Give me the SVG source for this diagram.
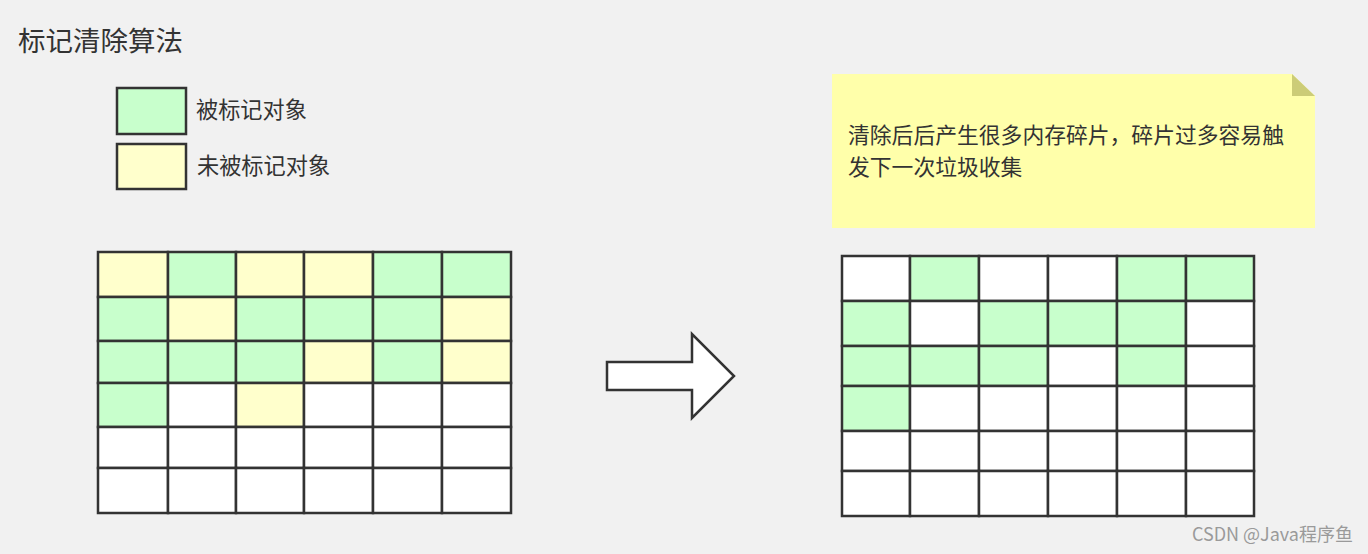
<svg xmlns="http://www.w3.org/2000/svg" width="1368" height="554" viewBox="0 0 1368 554">
<style>
text{font-family:"Noto Sans CJK SC","Noto Sans",sans-serif;fill:#333}
.c{stroke:#333;stroke-width:2.5}
.g{fill:#C8FFCC}
.y{fill:#FFFFCC}
.w{fill:#FFFFFF}
</style>
<rect width="1368" height="554" fill="#F1F1F1"/>
<text id="title" x="18" y="51" font-size="27.5">标记清除算法</text>
<g id="legend-marked">
<rect class="c g" x="117" y="88" width="69" height="46"/>
<text x="196" y="118" font-size="22.2">被标记对象</text>
</g>
<g id="legend-unmarked">
<rect class="c y" x="117" y="144" width="69" height="45"/>
<text x="197" y="174" font-size="22.2">未被标记对象</text>
</g>
<g id="grid-before">
<rect class="c y" x="98" y="252" width="70" height="45"/><rect class="c g" x="168" y="252" width="68" height="45"/><rect class="c y" x="236" y="252" width="68" height="45"/><rect class="c y" x="304" y="252" width="69" height="45"/><rect class="c g" x="373" y="252" width="69" height="45"/><rect class="c g" x="442" y="252" width="69" height="45"/>
<rect class="c g" x="98" y="297" width="70" height="44"/><rect class="c y" x="168" y="297" width="68" height="44"/><rect class="c g" x="236" y="297" width="68" height="44"/><rect class="c g" x="304" y="297" width="69" height="44"/><rect class="c g" x="373" y="297" width="69" height="44"/><rect class="c y" x="442" y="297" width="69" height="44"/>
<rect class="c g" x="98" y="341" width="70" height="42"/><rect class="c g" x="168" y="341" width="68" height="42"/><rect class="c g" x="236" y="341" width="68" height="42"/><rect class="c y" x="304" y="341" width="69" height="42"/><rect class="c g" x="373" y="341" width="69" height="42"/><rect class="c y" x="442" y="341" width="69" height="42"/>
<rect class="c g" x="98" y="383" width="70" height="44"/><rect class="c w" x="168" y="383" width="68" height="44"/><rect class="c y" x="236" y="383" width="68" height="44"/><rect class="c w" x="304" y="383" width="69" height="44"/><rect class="c w" x="373" y="383" width="69" height="44"/><rect class="c w" x="442" y="383" width="69" height="44"/>
<rect class="c w" x="98" y="427" width="70" height="41"/><rect class="c w" x="168" y="427" width="68" height="41"/><rect class="c w" x="236" y="427" width="68" height="41"/><rect class="c w" x="304" y="427" width="69" height="41"/><rect class="c w" x="373" y="427" width="69" height="41"/><rect class="c w" x="442" y="427" width="69" height="41"/>
<rect class="c w" x="98" y="468" width="70" height="45"/><rect class="c w" x="168" y="468" width="68" height="45"/><rect class="c w" x="236" y="468" width="68" height="45"/><rect class="c w" x="304" y="468" width="69" height="45"/><rect class="c w" x="373" y="468" width="69" height="45"/><rect class="c w" x="442" y="468" width="69" height="45"/>
</g>
<g id="connectors">
<path id="arrow" class="c" fill="#FFFFFF" d="M607 362 H692 V334 L734 376 L692 418 V390 H607 Z"/>
</g>
<g id="grid-after">
<rect class="c w" x="842" y="256" width="68" height="45"/><rect class="c g" x="910" y="256" width="69" height="45"/><rect class="c w" x="979" y="256" width="69" height="45"/><rect class="c w" x="1048" y="256" width="69" height="45"/><rect class="c g" x="1117" y="256" width="69" height="45"/><rect class="c g" x="1186" y="256" width="68" height="45"/>
<rect class="c g" x="842" y="301" width="68" height="45"/><rect class="c w" x="910" y="301" width="69" height="45"/><rect class="c g" x="979" y="301" width="69" height="45"/><rect class="c g" x="1048" y="301" width="69" height="45"/><rect class="c g" x="1117" y="301" width="69" height="45"/><rect class="c w" x="1186" y="301" width="68" height="45"/>
<rect class="c g" x="842" y="346" width="68" height="40"/><rect class="c g" x="910" y="346" width="69" height="40"/><rect class="c g" x="979" y="346" width="69" height="40"/><rect class="c w" x="1048" y="346" width="69" height="40"/><rect class="c g" x="1117" y="346" width="69" height="40"/><rect class="c w" x="1186" y="346" width="68" height="40"/>
<rect class="c g" x="842" y="386" width="68" height="45"/><rect class="c w" x="910" y="386" width="69" height="45"/><rect class="c w" x="979" y="386" width="69" height="45"/><rect class="c w" x="1048" y="386" width="69" height="45"/><rect class="c w" x="1117" y="386" width="69" height="45"/><rect class="c w" x="1186" y="386" width="68" height="45"/>
<rect class="c w" x="842" y="431" width="68" height="40"/><rect class="c w" x="910" y="431" width="69" height="40"/><rect class="c w" x="979" y="431" width="69" height="40"/><rect class="c w" x="1048" y="431" width="69" height="40"/><rect class="c w" x="1117" y="431" width="69" height="40"/><rect class="c w" x="1186" y="431" width="68" height="40"/>
<rect class="c w" x="842" y="471" width="68" height="45"/><rect class="c w" x="910" y="471" width="69" height="45"/><rect class="c w" x="979" y="471" width="69" height="45"/><rect class="c w" x="1048" y="471" width="69" height="45"/><rect class="c w" x="1117" y="471" width="69" height="45"/><rect class="c w" x="1186" y="471" width="68" height="45"/>
</g>
<g id="note">
<path d="M832 74 H1292 L1315 96 V228 H832 Z" fill="#FFFFAA"/>
<path d="M1292 74 L1315 96 H1292 Z" fill="#CCCC77"/>
<text x="848" y="143" font-size="21.8">清除后后产生很多内存碎片，碎片过多容易触</text>
<text x="848" y="175" font-size="21.8">发下一次垃圾收集</text>
</g>
<text id="watermark" x="1353" y="541" font-size="18" text-anchor="end" style="fill:#9A9A9A">CSDN @Java程序鱼</text>
</svg>
